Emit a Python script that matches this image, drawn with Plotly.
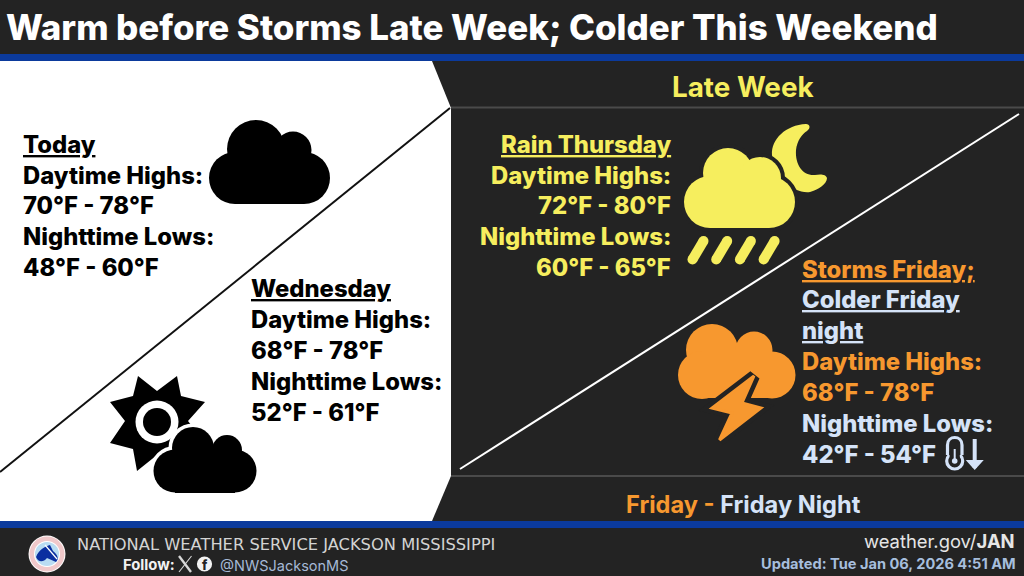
import plotly.graph_objects as go

# ---- content ----
TITLE = "Warm before Storms Late Week; Colder This Weekend"
TODAY_LINES = ["Today", "Daytime Highs:", "70°F - 78°F", "Nighttime Lows:", "48°F - 60°F"]
WED_LINES = ["Wednesday", "Daytime Highs:", "68°F - 78°F", "Nighttime Lows:", "52°F - 61°F"]
THU_LINES = ["Rain Thursday", "Daytime Highs:", "72°F - 80°F", "Nighttime Lows:", "60°F - 65°F"]
FRI_LINES = ["Storms Friday;", "Colder Friday", "night", "Daytime Highs:", "68°F - 78°F", "Nighttime Lows:", "42°F - 54°F"]
LATE_WEEK = "Late Week"
FRI_BANNER = ["Friday - ", "Friday Night"]
FOOTER_OFFICE = "NATIONAL WEATHER SERVICE JACKSON MISSISSIPPI"
FOOTER_FOLLOW = "Follow:"
FOOTER_HANDLE = "@NWSJacksonMS"
FOOTER_SITE = ["weather.gov/", "JAN"]
FOOTER_UPDATED = "Updated: Tue Jan 06, 2026 4:51 AM"

DARK = "#232323"
BLUE = "#0b3a9c"
YELLOW = "#f6ee5e"
ORANGE = "#f7982f"
PALE = "#d5e3f8"
FONT = "Inter"
BODY = 23.8

shapes, notes = [], []

def path(d, fill, line=None, w=0):
    shapes.append(dict(type="path", path=d, xref="x", yref="y", fillcolor=fill,
                       line=dict(color=line or fill, width=w)))

def poly(pts, fill, line=None, w=0, closed=True):
    d = "M" + " L".join(f"{x},{y}" for x, y in pts) + (" Z" if closed else "")
    path(d, fill if closed else "rgba(0,0,0,0)", line, w)

def circ(cx, cy, r, fill, line=None, w=0):
    shapes.append(dict(type="circle", xref="x", yref="y", x0=cx-r, x1=cx+r, y0=cy-r, y1=cy+r,
                       fillcolor=fill, line=dict(color=line or fill, width=w)))

def seg(x0, y0, x1, y1, color, w):
    shapes.append(dict(type="line", xref="x", yref="y", x0=x0, y0=y0, x1=x1, y1=y1,
                       line=dict(color=color, width=w)))

def rect(x0, y0, x1, y1, fill):
    shapes.append(dict(type="rect", xref="x", yref="y", x0=x0, y0=y0, x1=x1, y1=y1,
                       fillcolor=fill, line=dict(width=0)))

def cloud(circles, bottom, color, halo=None, halo_w=0):
    left = circles[-2]; right = circles[-1]
    if halo:
        for c in circles:
            circ(*c, halo, halo, halo_w)
        rect(left[0], bottom - 8, right[0], bottom + halo_w/2, halo)
    for c in circles:
        circ(*c, color)
    rect(left[0], min(c[1] for c in circles), right[0], bottom, color)

def text(x, y, s, size, color, anchor="left", weight=700, font=FONT, underline=False):
    f = dict(family=font, size=size, color=color, weight=weight)
    if underline:
        f["lineposition"] = "under"
    notes.append(dict(x=x, y=y, xref="x", yref="y", text=s, showarrow=False, xanchor=anchor,
                      yanchor="middle", font=f, align=anchor, borderpad=0, borderwidth=0))

# ---- panels ----
rect(0, 61, 1024, 521, DARK)
poly([(0, 61), (432, 61), (451, 108), (451, 476), (432, 521), (0, 521)], "#ffffff")
rect(0, 0, 1024, 54, DARK)
rect(0, 54, 1024, 61, BLUE)
rect(0, 521, 1024, 528, BLUE)
rect(0, 528, 1024, 576, DARK)
rect(451, 106.5, 1024, 108.5, "#4a4a4a")
rect(451, 475, 1024, 477, "#4a4a4a")
seg(0, 472, 450, 108, "#111111", 2)
seg(460, 469, 1019, 114, "#ffffff", 2)

# ---- icons ----
cloud([(256, 149, 29), (293, 150, 18.5), (235, 178, 26), (304, 178, 26)], 204, "#000000")

# sun + cloud
sun_pts = [(138, 376), (157, 391), (177, 376), (181, 396), (205, 402), (188, 421), (205, 443),
           (181, 450), (177, 471), (157, 455), (137, 471), (133, 449), (110, 443), (125, 421),
           (110, 402), (133, 396)]
poly(sun_pts, "#000000")
circ(157, 422, 21.5, "#ffffff")
circ(157, 422, 14, "#000000")
cloud([(193, 448, 21), (227, 450, 15), (175, 471, 21.5), (235, 471, 21.5)], 493, "#000000", "#ffffff", 7)

# moon + rain cloud
path("M806,124 C786,125 771,139 772,155 C774,178 794,194 810,192 C818,190 827,184 827,178 "
     "C826,174 820,174 815,175 C803,176 795,165 796,150 C797,141 802,134 807,131 C811,128 810,124 806,124 Z", YELLOW)
cloud([(728, 173, 25), (760, 178, 21), (710, 202, 26), (769, 202, 26)], 228, YELLOW, DARK, 8)
for dx in (0, 23.7, 47.4, 71.1):
    a, b = (703.5 + dx, 241), (692.5 + dx, 259.5)
    seg(a[0], a[1], b[0], b[1], YELLOW, 10)
    circ(a[0], a[1], 5, YELLOW)
    circ(b[0], b[1], 5, YELLOW)

# storm cloud + bolt
cloud([(712, 350, 26), (754, 350, 18.5), (702, 375, 24), (772, 375, 23.5)], 398, ORANGE)
bolt = [(754, 376), (712, 408), (732, 413), (719.5, 440), (761, 408), (742, 403)]
poly(bolt, DARK, DARK, 12)
poly(bolt, ORANGE, ORANGE, 3)

# thermometer + arrow
circ(954.7, 461, 8, DARK, PALE, 3.2)
path("M947.5,455 L947.5,445 C947.5,435 962,435 962,445 L962,455", DARK, PALE, 3.2)
rect(949.6, 451, 959.8, 460, DARK)
circ(954.7, 461, 2.8, PALE)
seg(954.7, 449, 954.7, 460, PALE, 2)
seg(974.7, 439, 974.7, 468, PALE, 4)
poly([(968, 461), (974.7, 468.5), (981.5, 461)], PALE, PALE, 2)

# NWS seal
circ(47, 554, 18.5, "#ffffff")
circ(47, 554, 17.5, "#f0c8ca")
circ(47, 554, 13, "#ffffff")
circ(47, 554, 12, "#b9dcf2")
path("M36,557 C39,549 46,546 50,545 L53,551 C58,555 59,559 56,562 L47,558 C43,563 38,562 36,557 Z", "#0b2fa0")
seg(45, 545, 57, 559, "#ffffff", 1.2)

# X + Facebook glyphs
seg(179, 556, 191, 572, "#d8d8d8", 2.4)
seg(191.5, 556, 179, 572, "#d8d8d8", 1.1)
circ(204.5, 564, 7.6, "#f2f2f2")

# ---- text ----
text(6, 26.5, TITLE, 34.9, "#ffffff", weight=800)

PITCH = [144, 175, 205.5, 236, 267]
for i, (s, y) in enumerate(zip(TODAY_LINES, PITCH)):
    text(23, y, s, BODY, "#000000", weight=800, underline=i == 0)
for i, (s, y) in enumerate(zip(WED_LINES, [288, 319, 350, 381, 412])):
    text(251, y, s, BODY, "#000000", weight=800, underline=i == 0)
for i, (s, y) in enumerate(zip(THU_LINES, PITCH)):
    text(671, y, s, BODY, YELLOW, anchor="right", weight=800, underline=i == 0)
FRI_COLORS = [ORANGE, PALE, PALE, ORANGE, ORANGE, PALE, PALE]
for i, (s, y, c) in enumerate(zip(FRI_LINES, [269, 299.5, 330.5, 361, 392, 423, 454], FRI_COLORS)):
    text(802, y, s, BODY, c, weight=800, underline=i < 3)

text(743, 87, LATE_WEEK, 27.8, YELLOW, anchor="center")
text(743.5, 504, f'<span style="color:{ORANGE}">{FRI_BANNER[0]}</span>'
                 f'<span style="color:{PALE}">{FRI_BANNER[1]}</span>', 23.6, PALE, anchor="center")

text(77, 544, FOOTER_OFFICE, 16.3, "#d4d4d4", weight=400, font="DejaVu Sans")
text(123, 565, FOOTER_FOLLOW, 14.8, "#f2f2f2", weight=700)
text(220, 565, FOOTER_HANDLE, 14.5, "#a6b9d6", weight=400)
text(1015, 541, f'{FOOTER_SITE[0]}<b>{FOOTER_SITE[1]}</b>', 18.4, "#e6e6e6", anchor="right", weight=400)
text(1016, 564, FOOTER_UPDATED, 14.6, "#a6bedd", anchor="right", weight=700)
text(204.8, 565, "f", 13, DARK, anchor="center", weight=800)

fig = go.Figure()
fig.update_layout(
    width=1024, height=576, margin=dict(l=0, r=0, t=0, b=0),
    paper_bgcolor=DARK, plot_bgcolor=DARK, showlegend=False,
    xaxis=dict(range=[0, 1024], visible=False, fixedrange=True),
    yaxis=dict(range=[576, 0], visible=False, fixedrange=True),
    shapes=shapes, annotations=notes,
)
fig.write_html("out.html", config=dict(displayModeBar=False),
               post_script="document.body.style.margin='0';")
